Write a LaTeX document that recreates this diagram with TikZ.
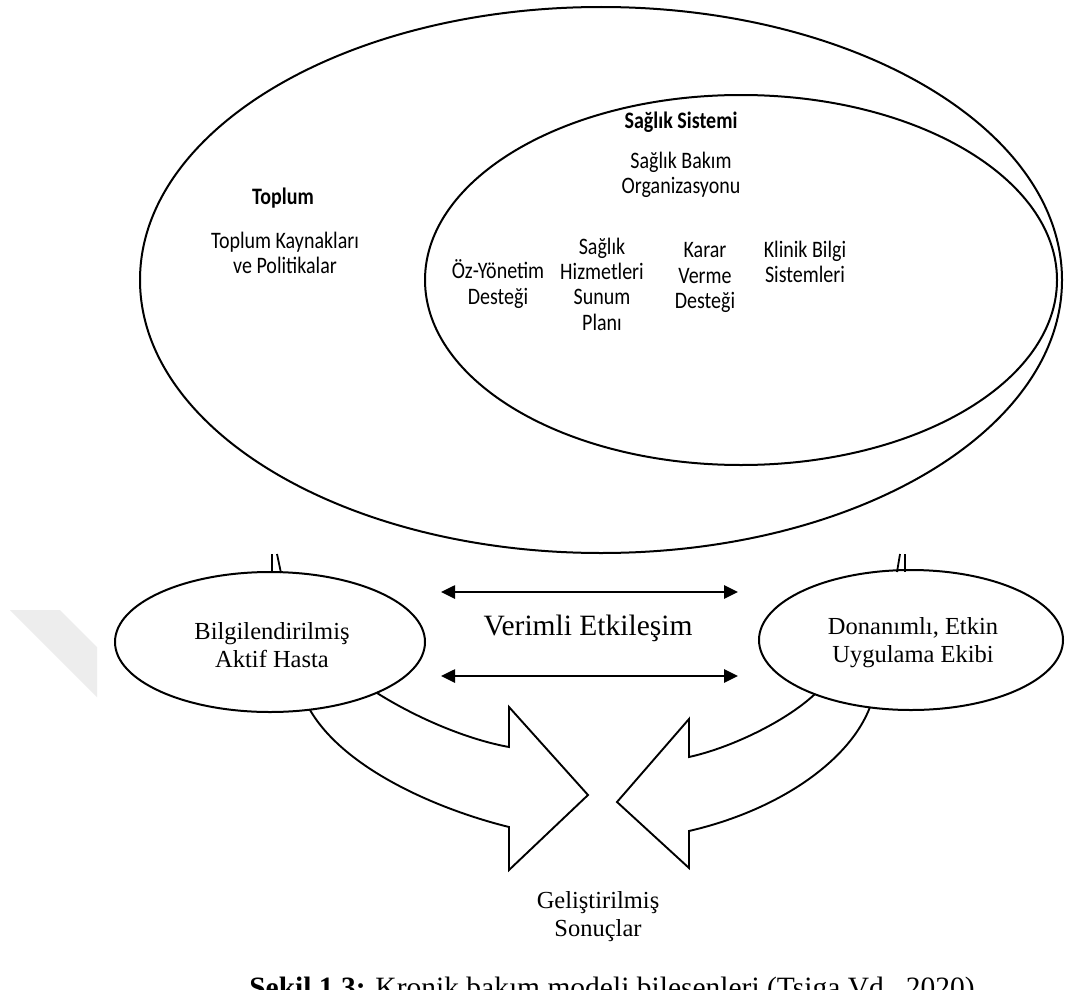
\documentclass[tikz,border=0pt]{standalone}
\usepackage{fontspec}
\usepackage{graphicx}
\setmainfont{Liberation Serif}
\newfontfamily\calfont{Carlito}
\usetikzlibrary{shapes.geometric,arrows.meta}
\newcommand\talltext[1]{\scalebox{1}[1.18]{\calfont\fontsize{20}{21.5}\selectfont\begin{tabular}{@{}c@{}}#1\end{tabular}}}
\definecolor{wmgray}{gray}{0.93}
\tikzset{
  ell/.style={draw,ellipse,line width=2pt,inner sep=0pt},
  caltxt/.style={inner sep=0pt},
  tmtxt/.style={align=center,font=\fontsize{24.5}{28}\selectfont},
  dbl/.style={line width=2.6pt,{Triangle[length=14pt,width=13pt]}-{Triangle[length=14pt,width=13pt]}},
  blockarrow/.style={line width=1.9pt,line join=miter},
  tick/.style={line width=1.8pt},
}
\begin{document}
\begin{tikzpicture}[x=1pt,y=-1pt]
\clip (0,0) rectangle (1065,990);
\fill[white] (0,0) rectangle (1065,990);

% faint watermark piece
\fill[wmgray] (10,610) -- (60,610) -- (97,647) -- (97,697) -- cycle;

% ellipses
\node[ell,minimum width=922pt,minimum height=546pt] (toplum) at (601,280) {};
\node[ell,minimum width=632pt,minimum height=370pt] (sistem) at (741,280) {};
\node[ell,minimum width=310pt,minimum height=140pt] (hasta) at (270,642) {};
\node[ell,minimum width=304pt,minimum height=140pt] (ekip) at (911,640) {};

% texts in the big ellipse
\node[caltxt] (t1) at (283,199) {\talltext{\bfseries Toplum}};
\node[caltxt] (t2) at (285,256) {\talltext{Toplum Kaynakları\\ve Politikalar}};
\node[caltxt] (s1) at (681,123) {\talltext{\bfseries Sağlık Sistemi}};
\node[caltxt] (s2) at (681,176) {\talltext{Sağlık Bakım\\Organizasyonu}};
\node[caltxt] (c1) at (498,286) {\talltext{Öz-Yönetim\\Desteği}};
\node[caltxt] (c2) at (602,287) {\talltext{Sağlık\\Hizmetleri\\Sunum\\Planı}};
\node[caltxt] (c3) at (705,278) {\talltext{Karar\\Verme\\Desteği}};
\node[caltxt] (c4) at (805,265) {\talltext{Klinik Bilgi\\Sistemleri}};

% small ellipse texts
\node[tmtxt] (ht) at (272,645) {Bilgilendirilmiş\\Aktif Hasta};
\node[tmtxt] (et) at (913,643) {Donanımlı, Etkin\\Uygulama Ekibi};
\node[align=center,font=\fontsize{29.5}{34}\selectfont] (ve) at (588,628) {Verimli Etkileşim};
\node[tmtxt] (out) at (598,917) {Geliştirilmiş\\Sonuçlar};

% ticks above the small ellipses
\coordinate (l1a) at (272,554); \coordinate (l1b) at (272,573);
\coordinate (l2a) at (277,554); \coordinate (l2b) at (281,573);
\coordinate (r1a) at (900,554); \coordinate (r1b) at (897,572);
\coordinate (r2a) at (905,554); \coordinate (r2b) at (905,572);
\draw[tick] (l1a) -- (l1b);
\draw[tick] (l2a) -- (l2b);
\draw[tick] (r1a) -- (r1b);
\draw[tick] (r2a) -- (r2b);

% double arrows
\coordinate (a1l) at (441,592); \coordinate (a1r) at (738,592);
\coordinate (a2l) at (441,676); \coordinate (a2r) at (738,676);
\draw[dbl] (a1l) -- (a1r);
\draw[dbl] (a2l) -- (a2r);

% block arrows
\draw[blockarrow] (377,693) .. controls (420,720) and (470,740) .. (509,747)
  -- (509,707) -- (588,795) -- (509,870) -- (509,827)
  .. controls (440,810) and (345,770) .. (310,710);
\draw[blockarrow] (815,694) .. controls (785,722) and (730,748) .. (689,757)
  -- (689,719) -- (617,802) -- (689,868) -- (689,831)
  .. controls (780,810) and (850,760) .. (870,707);

% caption
\node[anchor=base,font=\fontsize{29.5}{34}\selectfont] (cap) at (612,997) {\textbf{Şekil 1.3:} Kronik bakım modeli bileşenleri (Tsiga Vd., 2020)};
\end{tikzpicture}
\end{document}
